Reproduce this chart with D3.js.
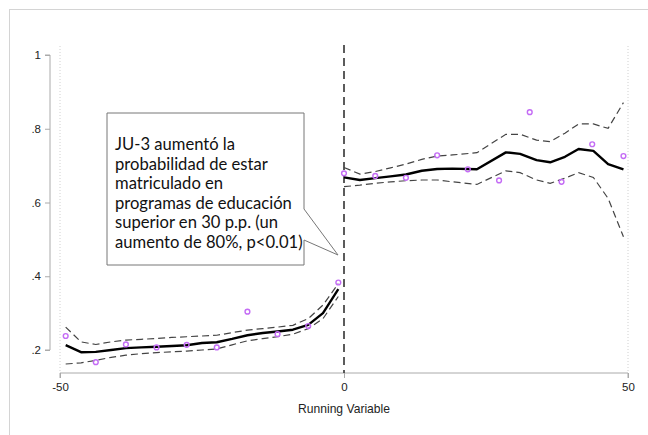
<!DOCTYPE html>
<html><head><meta charset="utf-8">
<script src="https://cdn.jsdelivr.net/npm/d3@7"></script>
<style>body{margin:0;background:#fff}svg{display:block}</style>
</head><body>
<svg id="c" width="648" height="435"></svg>
<script>
// Binned means (scatter)
const binX = [-49, -43.7, -38.4, -33, -27.7, -22.4, -17, -11.7, -6.3, -1,
              0, 5.5, 10.9, 16.4, 21.8, 27.3, 32.7, 38.3, 43.7, 49.2];
const binY = [0.238, 0.167, 0.215, 0.207, 0.214, 0.207, 0.304, 0.243, 0.265, 0.383,
              0.679, 0.672, 0.667, 0.728, 0.690, 0.660, 0.845, 0.656, 0.758, 0.726];

// Left-side local fit
const leftX = [-49, -46.3, -43.7, -41, -38.4, -35.7, -33, -30.3, -27.7, -25, -22.4, -19.7, -17, -14.3, -11.7, -9, -6.3, -3.7, -1];
const leftFit = [0.213, 0.194, 0.195, 0.200, 0.205, 0.207, 0.209, 0.211, 0.213, 0.219, 0.221, 0.230, 0.240, 0.246, 0.250, 0.255, 0.268, 0.300, 0.365];
const leftHi  = [0.262, 0.222, 0.215, 0.222, 0.227, 0.229, 0.231, 0.234, 0.236, 0.238, 0.240, 0.247, 0.254, 0.258, 0.262, 0.267, 0.285, 0.322, 0.380];
const leftLo  = [0.162, 0.165, 0.172, 0.180, 0.186, 0.190, 0.193, 0.195, 0.197, 0.200, 0.203, 0.214, 0.225, 0.231, 0.236, 0.243, 0.258, 0.285, 0.345];

// Right-side local fit
const rightX = [0, 2.8, 5.5, 8.2, 10.9, 13.7, 16.4, 19.1, 23.4, 28.5, 31, 33.9, 36.3, 38.9, 41.3, 43.9, 46.5, 49.2];
const rightFit = [0.668, 0.661, 0.666, 0.671, 0.676, 0.686, 0.691, 0.692, 0.690, 0.736, 0.732, 0.715, 0.709, 0.724, 0.745, 0.740, 0.704, 0.690];
const rightHi  = [0.695, 0.677, 0.684, 0.694, 0.704, 0.717, 0.726, 0.729, 0.735, 0.785, 0.785, 0.769, 0.765, 0.788, 0.813, 0.813, 0.801, 0.871];
const rightLo  = [0.643, 0.647, 0.652, 0.656, 0.659, 0.661, 0.661, 0.656, 0.649, 0.686, 0.681, 0.661, 0.652, 0.666, 0.681, 0.668, 0.611, 0.507];

const xTicks = [-50, 0, 50];
const xTickLabels = ["-50", "0", "50"];
const yTicks = [0.2, 0.4, 0.6, 0.8, 1];
const yTickLabels = [".2", ".4", ".6", ".8", "1"];
const xTitle = "Running Variable";
const note = ["JU-3 aumentó la", "probabilidad de estar", "matriculado en",
              "programas de educación", "superior en 30 p.p. (un", "aumento de 80%, p<0.01)"];

const svg = d3.select("#c");
const x = d3.scaleLinear().domain([-50, 50]).range([60, 628]);
const y = d3.scaleLinear().domain([0.2, 1]).range([350, 55]);
const axisFont = "'Liberation Sans Narrow', 'Liberation Sans', Arial, sans-serif";

// outer frame
svg.append("rect").attr("x", 9.5).attr("y", 9.5).attr("width", 700).attr("height", 500)
  .attr("fill", "none").attr("stroke", "#d4d4d4").attr("stroke-width", 1);

// dotted vertical lines at ends
[-50, 50].forEach(v => {
  svg.append("line").attr("x1", x(v)).attr("x2", x(v)).attr("y1", 46).attr("y2", 373)
    .attr("stroke", "#d0d0d0").attr("stroke-width", 1).attr("stroke-dasharray", "1,2");
});

// Y axis
const yAxis = d3.axisLeft(y).tickValues(yTicks).tickSize(5).tickPadding(4)
  .tickFormat((d, i) => yTickLabels[i]);
const gy = svg.append("g").attr("transform", "translate(50,0)").call(yAxis);
gy.attr("font-family", axisFont);
gy.select(".domain").attr("stroke", "#aaa").attr("d", `M-5,${y(1)}H0V${y(0.2)}H-5`);
gy.selectAll(".tick line").attr("stroke", "#aaa");
gy.selectAll("text").attr("font-family", axisFont).attr("font-size", 11.5).attr("fill", "#222");

// X axis
const xAxis = d3.axisBottom(x).tickValues(xTicks).tickSize(5).tickPadding(5)
  .tickFormat((d, i) => xTickLabels[i]);
const gx = svg.append("g").attr("transform", "translate(0,373)").call(xAxis);
gx.attr("font-family", axisFont);
gx.select(".domain").attr("stroke", "#aaa").attr("d", `M${x(-50)},5V0H${x(50)}V5`);
gx.selectAll(".tick line").attr("stroke", "#aaa");
gx.selectAll("text").attr("font-family", axisFont).attr("font-size", 11.5).attr("fill", "#222");

svg.append("text").attr("x", x(0)).attr("y", 413).attr("text-anchor", "middle")
  .attr("font-family", axisFont).attr("font-size", 13.5).attr("fill", "#222")
  .attr("textLength", 92).attr("lengthAdjust", "spacingAndGlyphs")
  .text(xTitle);

// cutoff dashed line
svg.append("line").attr("x1", x(0)).attr("x2", x(0)).attr("y1", 45).attr("y2", 373)
  .attr("stroke", "#333").attr("stroke-width", 1.6).attr("stroke-dasharray", "8,5");

// fits
const line = d3.line().x(d => x(d[0])).y(d => y(d[1]));
function drawSide(xs, fit, hi, lo) {
  const z = a => xs.map((v, i) => [v, a[i]]);
  svg.append("path").attr("d", line(z(hi))).attr("fill", "none").attr("stroke", "#444")
    .attr("stroke-width", 1.2).attr("stroke-dasharray", "7,4");
  svg.append("path").attr("d", line(z(lo))).attr("fill", "none").attr("stroke", "#444")
    .attr("stroke-width", 1.2).attr("stroke-dasharray", "7,4");
  svg.append("path").attr("d", line(z(fit))).attr("fill", "none").attr("stroke", "#000")
    .attr("stroke-width", 2.4).attr("stroke-linejoin", "round");
}
drawSide(leftX, leftFit, leftHi, leftLo);
drawSide(rightX, rightFit, rightHi, rightLo);

// binned scatter
svg.append("g").selectAll("circle").data(binX).join("circle")
  .attr("cx", d => x(d)).attr("cy", (d, i) => y(binY[i])).attr("r", 2.4)
  .attr("fill", "none").attr("stroke", "#c46cf5").attr("stroke-width", 1.4);

// callout box
const bx0 = 107, by0 = 113, bx1 = 304, by1 = 265;
svg.append("path")
  .attr("d", `M${bx0},${by0}H${bx1}V209L338,255L${bx1},240V${by1}H${bx0}Z`)
  .attr("fill", "#fff").attr("stroke", "#777").attr("stroke-width", 1);
const t = svg.append("text").attr("font-family", "Lato, 'Open Sans', sans-serif")
  .attr("font-size", 16.6).attr("fill", "#111");
note.forEach((s, i) => {
  t.append("tspan").attr("x", 115).attr("y", 150 + i * 19.6).text(s);
});
</script>
</body></html>
